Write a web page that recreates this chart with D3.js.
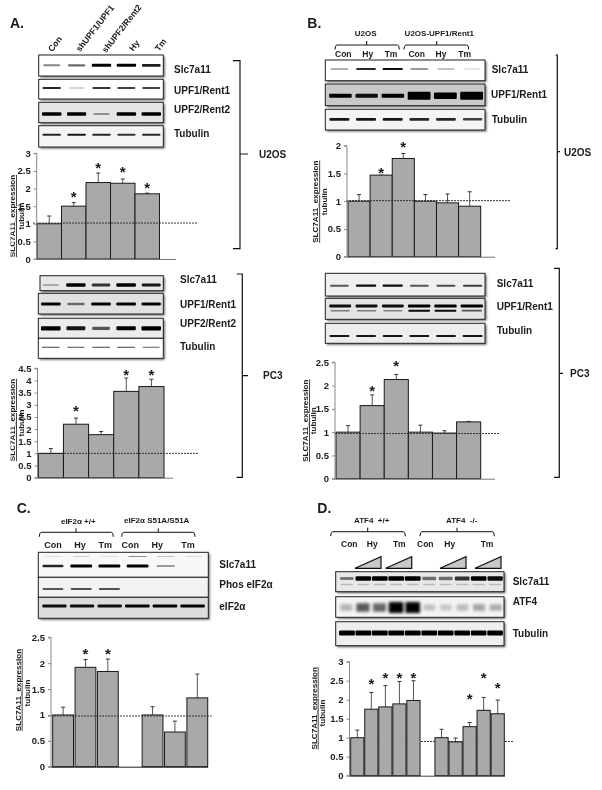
<!DOCTYPE html>
<html><head><meta charset="utf-8">
<script src="https://cdn.jsdelivr.net/npm/d3@7"></script>
<style>html,body{margin:0;padding:0;background:#fff}svg{display:block}
text{font-family:"Liberation Sans",Arial,sans-serif;fill:#1a1a1a}</style></head>
<body><svg id="fig" width="602" height="790" xmlns="http://www.w3.org/2000/svg"></svg>
<script>
// ---- bar chart data -------------------------------------------------
const aTopValues=[1,1.5,2.17,2.15,1.85], aTopErrTops=[1.22,1.6,2.44,2.27,1.87], aTopStars=[null,1.84,2.67,2.55,2.09];
const aTopTicks=[0,0.5,1,1.5,2,2.5,3];
const aBotValues=[1,2.2,1.77,3.55,3.75], aBotErrTops=[1.2,2.45,1.9,4.1,4.05], aBotStars=[null,2.87,null,4.35,4.35];
const aBotTicks=[0,0.5,1,1.5,2,2.5,3,3.5,4,4.5];
const bTopValues=[1,1.47,1.77,1,0.97,0.91], bTopErrTops=[1.12,1.47,1.86,1.12,1.13,1.17], bTopStars=[null,1.56,2.03,null,null,null];
const bTopTicks=[0,0.5,1,1.5,2];
const bBotValues=[1,1.57,2.13,1,0.98,1.22], bBotErrTops=[1.14,1.8,2.24,1.15,1.03,1.23], bBotStars=[null,1.94,2.48,null,null,null];
const bBotTicks=[0,0.5,1,1.5,2,2.5];
const cValues=[1,1.92,1.84,null,1,0.67,1.33], cErrTops=[1.15,2.07,2.08,null,1.16,0.88,1.79], cStars=[null,2.23,2.23,null,null,null,null];
const cTicks=[0,0.5,1,1.5,2,2.5];
const dValues=[1,1.75,1.81,1.89,1.98,null,1,0.89,1.29,1.72,1.63], dErrTops=[1.2,2.19,2.37,2.48,2.5,null,1.22,0.99,1.4,2.06,1.99], dStars=[null,2.5,2.65,2.65,2.65,null,null,null,2.1,2.65,2.37];
const dTicks=[0,0.5,1,1.5,2,2.5,3];
// ---- text ---------------------------------------------------------------
const aLanes=["Con","shUPF1/UPF1","shUPF2/Rent2","Hy","Tm"];
const bLanes=["Con","Hy","Tm","Con","Hy","Tm"];
const cLanes=["Con","Hy","Tm","Con","Hy","Tm"];
const dLanes=["Con","Hy","Tm","Con","Hy","Tm"];
const axisTitle="SLC7A11_expression", axisSub="tubulin";
// ---- blot band intensities (one per lane) -------------------------------
const aTopSlc=[.45,.55,1,1,.85], aTopUpf1=[.8,.2,.75,.7,.7], aTopUpf2=[1,.95,.35,1,1], aTopTub=[.8,.85,.8,.75,.8];
const aBotSlc=[.25,.95,.75,1,.85], aBotUpf1=[1,.5,1,1,.95], aBotUpf2=[1,.85,.6,.95,1], aBotTub=[.7,.65,.7,.7,.6];
const bTopSlc=[.4,.8,.9,.5,.3,.2], bTopUpf1=[.95,.9,.95,1,1,1], bTopUpf1Thick=[.5,.5,.5,1,.8,1], bTopTub=[.85,.85,.85,.8,.8,.7];
const bBotSlc=[.6,.9,.9,.6,.65,.7], bBotUpf1=[.9,.9,.9,1,1,1], bBotUpf1b=[.45,.45,.4,.9,.9,.6], bBotTub=[.85,.85,.85,.85,.85,.85];
const cSlc=[.8,.95,.95,.95,.35,0], cSlcUpper=[.1,.15,.1,.4,.2,.1], cPhos=[.8,.85,.85,0,0,0], cTotal=[.9,.9,.9,.95,.95,.95];
const dSlc=[.45,.95,1,1,1,.5,.5,.75,.95,.9], dAtf4=[.25,.6,.55,1,1,.2,.18,.22,.3,.28], dTub=[1,1,1,1,1,.95,.95,.95,.95,.95];

const svg=d3.select("#fig");
const defs=svg.append("defs");
const addBlur=(id,s)=>defs.append("filter").attr("id",id).attr("x","-30%").attr("y","-100%").attr("width","160%").attr("height","300%")
  .append("feGaussianBlur").attr("stdDeviation",s);
addBlur("soft",0.6);addBlur("smear",1.5);addBlur("shadow",1.1);
defs.append("filter").attr("id","jpeg").attr("filterUnits","userSpaceOnUse").attr("x",0).attr("y",0).attr("width",602).attr("height",790)
  .append("feGaussianBlur").attr("stdDeviation",0.32);
defs.append("clipPath").attr("id","cutA").append("rect").attr("x",10.5).attr("y",150).attr("width",30).attr("height",340);

const root=svg.append("g").attr("id","root").attr("filter","url(#jpeg)");

function txt(x,y,s,o={}){
  const t=root.append("text").attr("x",x).attr("y",y).text(s)
   .attr("font-size",o.size||10).attr("font-weight",o.weight||"bold");
  if(o.anchor)t.attr("text-anchor",o.anchor);
  if(o.fill)t.style("fill",o.fill);
  return t;
}
function bracket(x0,x1,y,mid){
  const p=d3.path();
  p.moveTo(x0,y+4.5);p.quadraticCurveTo(x0,y,x0+2,y);p.lineTo(x1-2,y);p.quadraticCurveTo(x1,y,x1,y+4.5);
  p.moveTo(mid,y);p.lineTo(mid,y-4);
  root.append("path").attr("d",p.toString()).attr("fill","none").attr("stroke","#111").attr("stroke-width",1);
}
function sideBracket(x,y0,y1,tickL,midY,midX,lw){
  const p=d3.path();
  p.moveTo(tickL,y0);p.lineTo(x,y0);p.lineTo(x,y1);p.lineTo(tickL,y1);
  p.moveTo(x,midY);p.lineTo(midX,midY);
  root.append("path").attr("d",p.toString()).attr("fill","none").attr("stroke","#111").attr("stroke-width",lw||1.1);
}
function blot(b){
  const g=root.append("g");
  g.append("rect").attr("x",b.x+1.5).attr("y",b.y+1.5).attr("width",b.w).attr("height",b.h)
    .attr("fill","#666").attr("filter","url(#shadow)");
  g.append("rect").attr("x",b.x).attr("y",b.y).attr("width",b.w).attr("height",b.h)
    .attr("fill",b.fill||"#fff").attr("stroke","#222").attr("stroke-width",1);
  const lane=d3.scaleBand().domain(d3.range(b.lanes)).range(b.range).paddingInner(b.gap==null?.22:b.gap);
  (b.bands||[]).forEach(s=>{
    g.append("g").selectAll("rect").data(s.v).join("rect")
     .attr("x",(d,i)=>lane(i)+(1-d)*lane.bandwidth()*.12)
     .attr("width",d=>lane.bandwidth()*(1-(1-d)*.24))
     .attr("y",(d,i)=>{const t=s.t*(s.thick?s.thick[i]:(.45+.55*d));return s.y-t/2;})
     .attr("height",(d,i)=>s.t*(s.thick?s.thick[i]:(.45+.55*d)))
     .attr("rx",1)
     .attr("fill",s.c||"#000").attr("opacity",d=>Math.min(1,d*1.05))
     .attr("filter",`url(#${s.f||"soft"})`);
  });
}
function chart(c){
  const x=d3.scaleBand().domain(d3.range(c.values.length)).range([c.x0,c.x1]).paddingInner(c.pad||0);
  const y=d3.scaleLinear().domain([0,c.ticks[c.ticks.length-1]]).range([c.y0,c.y1]);
  const g=root.append("g");
  const dash=()=>g.append("line").attr("x1",c.dashFrom).attr("x2",c.dashTo).attr("y1",y(c.ref)).attr("y2",y(c.ref))
     .attr("stroke","#222").attr("stroke-width",.9).attr("stroke-dasharray","2 1");
  if(c.dashBehind)dash();
  const idx=d3.range(c.values.length).filter(i=>c.values[i]!=null);
  g.append("g").selectAll("line").data(idx).join("line")
    .attr("x1",i=>x(i)+x.bandwidth()/2).attr("x2",i=>x(i)+x.bandwidth()/2)
    .attr("y1",i=>y(c.values[i])).attr("y2",i=>y(c.errs[i])).attr("stroke","#555").attr("stroke-width",1);
  g.append("g").selectAll("line").data(idx).join("line")
    .attr("x1",i=>x(i)+x.bandwidth()/2-2).attr("x2",i=>x(i)+x.bandwidth()/2+2)
    .attr("y1",i=>y(c.errs[i])).attr("y2",i=>y(c.errs[i])).attr("stroke","#333").attr("stroke-width",1);
  g.append("g").selectAll("rect").data(idx).join("rect")
    .attr("x",i=>x(i)).attr("width",x.bandwidth())
    .attr("y",i=>y(c.values[i])).attr("height",i=>c.y0-y(c.values[i]))
    .attr("fill","#a9a9a9").attr("stroke","#1a1a1a").attr("stroke-width",1);
  if(!c.dashBehind)dash();
  const ax=g.append("g").attr("transform",`translate(${c.axisX},0)`)
    .call(d3.axisLeft(y).tickValues(c.ticks).tickFormat(d3.format("")).tickSize(3).tickPadding(3));
  ax.selectAll("path").attr("d",`M-3,${c.y1}H0V${c.y0}H-3`).attr("stroke","#888");
  ax.selectAll("line").attr("stroke","#888");
  ax.selectAll("text").attr("font-size",c.tickSize||9.5).attr("font-weight","bold").style("font-family",'"Liberation Sans",Arial,sans-serif').style("fill","#222");
  g.append("line").attr("x1",c.axisX).attr("x2",c.axisEnd).attr("y1",c.y0+.5).attr("y2",c.y0+.5).attr("stroke",c.baseColor||"#777").attr("stroke-width",1);
  g.append("g").selectAll("text").data(idx.filter(i=>c.stars[i]!=null)).join("text")
    .attr("x",i=>x(i)+x.bandwidth()/2).attr("y",i=>y(c.stars[i])).attr("dy",".52em")
    .attr("text-anchor","middle").attr("font-size",15).attr("font-weight","bold").text("*");
  // rotated axis titles
  const t=(bx,cy,s,deco,clip)=>{
    const el=root.append("g");
    if(clip)el.attr("clip-path","url(#cutA)");
    const tt=el.append("text").attr("transform",`translate(${bx},${cy}) rotate(-90)`).attr("text-anchor","middle")
      .attr("font-size",8.1).attr("font-weight","bold").text(s);
    if(deco)tt.style("text-decoration","underline");
  };
  t(c.titleX,c.titleY,axisTitle,true,c.clipTitle);
  t(c.subX,c.subY,axisSub,false,false);
}
// ---- panel letters --------------------------------------------------
[["A.",10,27.7],["B.",307.3,27.7],["C.",16.7,513],["D.",317.3,512.7]].forEach(d=>txt(d[1],d[2],d[0],{size:14}));

// ---- Panel A ---------------------------------------------------------
const aRot=[[52.3,52.3],[80,52.3],[106,53.3],[133.3,51.7],[159,51.7]];
aLanes.forEach((s,i)=>root.append("text").attr("transform",`translate(${aRot[i][0]},${aRot[i][1]}) rotate(-52)`)
  .attr("font-size",8.6).attr("font-weight","bold").text(s));
const aR=[42,161];
blot({x:38.7,y:55,w:124.6,h:21,lanes:5,range:aR,bands:[{y:65.3,t:3,v:aTopSlc}]});
blot({x:38.7,y:79.3,w:124.6,h:19.7,lanes:5,range:aR,bands:[{y:88,t:2.4,v:aTopUpf1}]});
blot({x:38.7,y:102.3,w:124.6,h:20.4,fill:"#e6e6e6",lanes:5,range:aR,bands:[{y:114,t:3.4,v:aTopUpf2}]});
blot({x:38.7,y:125.7,w:124.6,h:21.3,fill:"#f4f4f4",lanes:5,range:aR,bands:[{y:134.7,t:2.2,v:aTopTub}]});
[["Slc7a11",174,72.7],["UPF1/Rent1",174,94],["UPF2/Rent2",174,113],["Tubulin",174,136.7]].forEach(d=>txt(d[1],d[2],d[0]));
sideBracket(240,60.7,248.7,233,154,248,1.2);txt(259,158,"U2OS");
chart({values:aTopValues,errs:aTopErrTops,stars:aTopStars,ticks:aTopTicks,x0:37,x1:159.5,y0:259,y1:153.3,axisX:36.7,axisEnd:176,ref:1.02,dashFrom:33,dashTo:198,
  titleX:15,titleY:216,subX:24,subY:216,clipTitle:true});

const aR2=[41,161];
blot({x:40,y:275.7,w:123.3,h:15,fill:"#e8e8e8",lanes:5,range:aR2,bands:[{y:285,t:3.4,v:aBotSlc}]});
blot({x:38.3,y:293.3,w:125,h:20.7,fill:"#e2e2e2",lanes:5,range:aR2,bands:[{y:304,t:3.2,v:aBotUpf1}]});
blot({x:38.3,y:318.3,w:125,h:20,fill:"#ececec",lanes:5,range:aR2,bands:[{y:328.3,t:4.2,v:aBotUpf2}]});
blot({x:38.3,y:338.3,w:125,h:20,fill:"#fff",lanes:5,range:aR2,bands:[{y:347.3,t:1.2,v:aBotTub}]});
[["Slc7a11",180,283],["UPF1/Rent1",180,308],["UPF2/Rent2",180,326.5],["Tubulin",180,350]].forEach(d=>txt(d[1],d[2],d[0]));
sideBracket(242.3,274,477.3,236.7,375.7,248,1.2);txt(263,379,"PC3");
chart({values:aBotValues,errs:aBotErrTops,stars:aBotStars,ticks:aBotTicks,x0:38.3,x1:164,y0:477.7,y1:368.3,axisX:37.5,axisEnd:173,ref:1,dashFrom:37,dashTo:199,
  titleX:15,titleY:420,subX:24,subY:423,clipTitle:true});

// ---- Panel B ---------------------------------------------------------
txt(365.7,36,"U2OS",{size:8,anchor:"middle"});txt(439.3,36,"U2OS-UPF1/Rent1",{size:8,anchor:"middle"});
bracket(335,399.3,45,366.7);bracket(404,468.7,45,436.7);
[343.3,367.7,391,416.7,441,464.7].forEach((x,i)=>txt(x,56.7,bLanes[i],{size:8.5,anchor:"middle"}));
const bR=[329,483];
blot({x:325.3,y:60,w:159.7,h:20.7,lanes:6,range:bR,bands:[{y:69,t:2.2,v:bTopSlc}]});
blot({x:325.3,y:84,w:159.7,h:21.7,fill:"#c9c9c9",lanes:6,range:bR,gap:.13,bands:[{y:95.8,t:8,v:bTopUpf1,thick:bTopUpf1Thick}]});
blot({x:325.3,y:109.3,w:159.7,h:20.7,fill:"#f4f4f4",lanes:6,range:bR,bands:[{y:119.3,t:3,v:bTopTub}]});
[["Slc7a11",491.7,72.7],["UPF1/Rent1",491,98.3],["Tubulin",491.7,122.7]].forEach(d=>txt(d[1],d[2],d[0]));
sideBracket(557.3,55,248.7,555.5,151.7,560,1.2);txt(564,155.5,"U2OS");
chart({values:bTopValues,errs:bTopErrTops,stars:bTopStars,ticks:bTopTicks,x0:348,x1:480.7,y0:256.7,y1:145.7,axisX:347,axisEnd:495,ref:1.01,dashFrom:346,dashTo:510,
  titleX:318.3,titleY:201.7,subX:326.7,subY:201.7});

blot({x:325.3,y:273.3,w:159.7,h:22.7,fill:"#efefef",lanes:6,range:bR,bands:[{y:285.7,t:2.4,v:bBotSlc}]});
blot({x:325.3,y:298.3,w:159.7,h:21,fill:"#e4e4e4",lanes:6,range:bR,gap:.15,bands:[{y:306,t:3,v:bBotUpf1},{y:310.7,t:2.2,v:bBotUpf1b}]});
blot({x:325.3,y:323.3,w:159.7,h:20,fill:"#ededed",lanes:6,range:bR,bands:[{y:336,t:2.2,v:bBotTub}]});
[["Slc7a11",496.7,286.7],["UPF1/Rent1",496.7,310],["Tubulin",496.7,334]].forEach(d=>txt(d[1],d[2],d[0]));
sideBracket(559.3,268.3,477.3,554,373.3,563,1.2);txt(570,376.7,"PC3");
chart({values:bBotValues,errs:bBotErrTops,stars:bBotStars,ticks:bBotTicks,x0:336,x1:480.7,y0:478.7,y1:362.3,axisX:335,axisEnd:495,ref:.97,dashFrom:335,dashTo:500,
  titleX:308,titleY:420.7,subX:315.7,subY:420.7});

// ---- Panel C ---------------------------------------------------------
txt(78.3,524.3,"eIF2α +/+",{size:8,anchor:"middle"});txt(156.7,523.3,"eIF2α S51A/S51A",{size:8,anchor:"middle"});
bracket(39.3,113.3,532.3,76);bracket(121.7,195,532.3,158.3);
[53,80,105.3,130.3,157.3,188].forEach((x,i)=>txt(x,547.7,cLanes[i],{size:9,anchor:"middle"}));
const cR=[42,205];
blot({x:38.3,y:552.3,w:170,h:25,fill:"#f8f8f8",lanes:6,range:cR,bands:[{y:566,t:3,v:cSlc},{y:556.5,t:1.6,v:cSlcUpper}]});
blot({x:38.3,y:577.3,w:170,h:20,fill:"#f2f2f2",lanes:6,range:cR,bands:[{y:589,t:1.6,v:cPhos}]});
blot({x:38.3,y:597.3,w:170,h:21,fill:"#dcdcdc",lanes:6,range:cR,gap:.1,bands:[{y:606,t:3.2,v:cTotal}]});
[["Slc7a11",219.3,567.7],["Phos eIF2α",219.3,587.7],["eIF2α",219.3,610]].forEach(d=>txt(d[1],d[2],d[0]));
chart({values:cValues,errs:cErrTops,stars:cStars,ticks:cTicks,x0:52.7,x1:207.7,y0:766.7,y1:637.3,axisX:51,axisEnd:208,pad:.07,ref:.98,dashFrom:48,dashTo:211.7,baseColor:"#222",
  titleX:20.7,titleY:690,subX:30,subY:693});

// ---- Panel D ---------------------------------------------------------
txt(371.7,522.7,"ATF4\u00a0\u00a0+/+",{size:8,anchor:"middle"});txt(461.7,522.7,"ATF4\u00a0\u00a0-/-",{size:8,anchor:"middle"});
bracket(330.7,405.3,531.7,367.7);bracket(420,494.3,531.7,457);
[349.3,372.3,399.3,425.3,449.7,487].forEach((x,i)=>txt(x,546.7,dLanes[i],{size:8.5,anchor:"middle"}));
root.append("g").selectAll("path").data([355,385.7,440,475]).join("path")
  .attr("d",x=>`M${x},568.3L${x+26},556.7V568.3Z`).attr("fill","#c8c8c8").attr("stroke","#111").attr("stroke-width",1.2);
const dR=[339,503];
blot({x:335.7,y:571.7,w:168.3,h:20,fill:"#e8e8e8",lanes:10,range:dR,gap:.05,bands:[{y:578.5,t:4.5,v:dSlc},{y:584.5,t:3,v:dSlc.map(()=>.18)}]});
blot({x:335.7,y:596.7,w:168.3,h:20.6,fill:"#f4f4f4",lanes:10,range:dR,gap:.12,bands:[{y:607.5,t:11,v:dAtf4,f:"smear"}]});
blot({x:335.7,y:621.7,w:168.3,h:24,fill:"#eeeeee",lanes:10,range:dR,gap:.04,bands:[{y:633,t:5,v:dTub}]});
[["Slc7a11",512.7,585],["ATF4",512.7,605],["Tubulin",512.7,636.7]].forEach(d=>txt(d[1],d[2],d[0]));
chart({values:dValues,errs:dErrTops,stars:dStars,ticks:dTicks,x0:350.7,x1:504.3,y0:775.7,y1:661.7,axisX:349.5,axisEnd:505,pad:.06,ref:.9,dashFrom:352,dashTo:514,dashBehind:true,baseColor:"#444",
  titleX:316.7,titleY:708.3,subX:325.3,subY:713});
</script></body></html>
